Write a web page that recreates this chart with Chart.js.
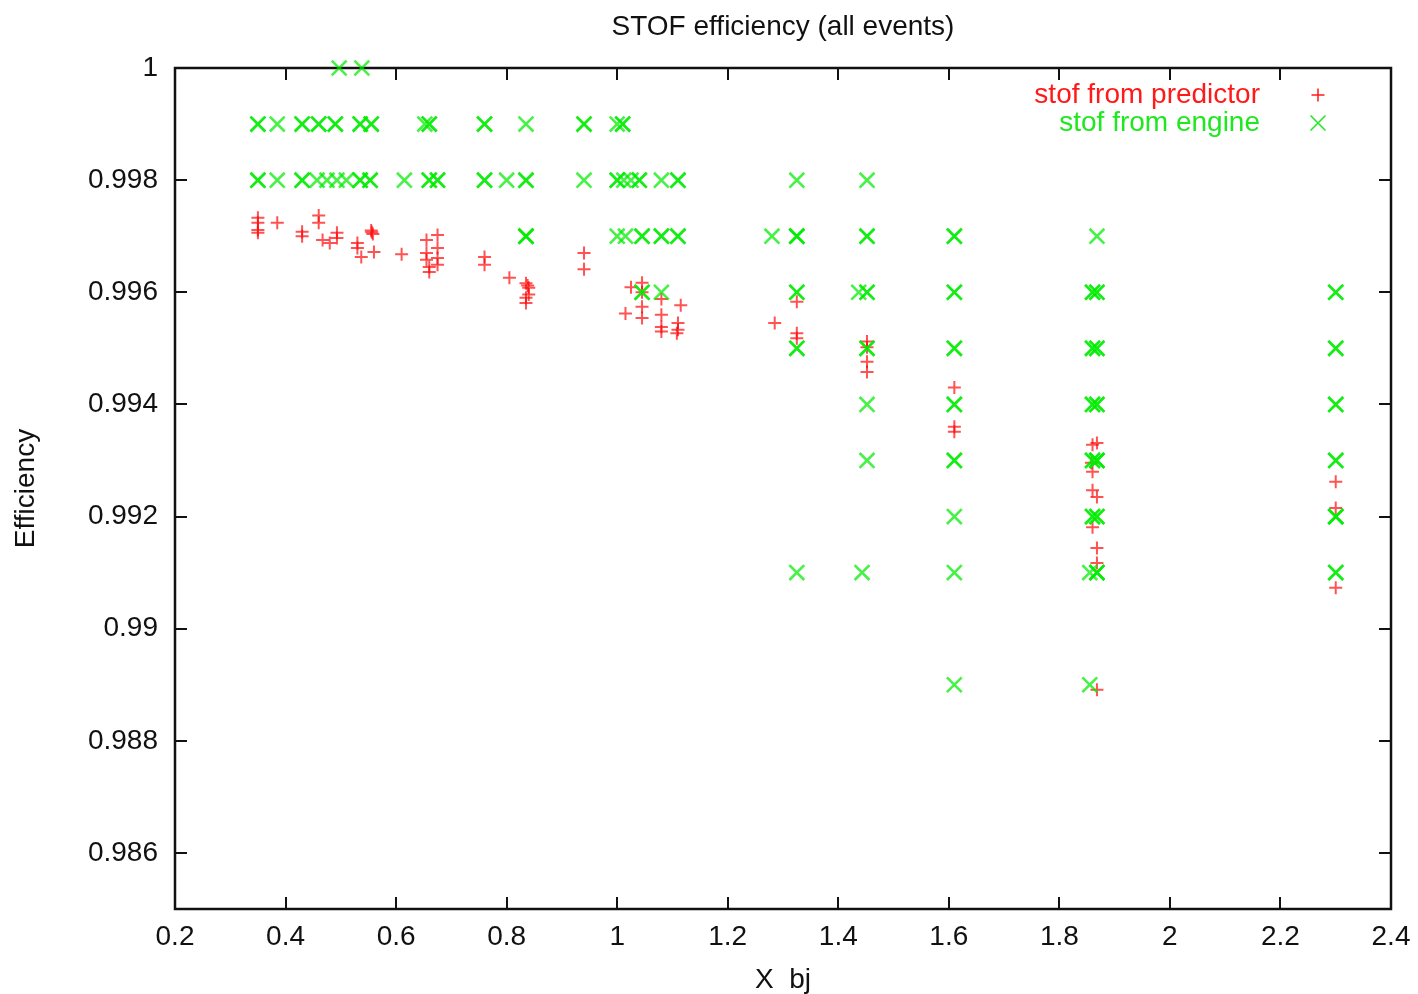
<!DOCTYPE html>
<html>
<head>
<meta charset="utf-8">
<title>STOF efficiency</title>
<script src="https://cdn.jsdelivr.net/npm/chart.js@4/dist/chart.umd.min.js"></script>
<style>
  html, body { margin: 0; padding: 0; background: #fff; }
  #wrap { width: 1418px; height: 994px; }
</style>
</head>
<body>
<div id="wrap"><canvas id="c" width="1418" height="994"></canvas></div>
<script>
// Axis ticks
const xTicks = [0.2, 0.4, 0.6, 0.8, 1.0, 1.2, 1.4, 1.6, 1.8, 2.0, 2.2, 2.4];
const yTicks = [0.986, 0.988, 0.990, 0.992, 0.994, 0.996, 0.998, 1.000];

// Efficiency from the predictor, one entry per run (x = X_bj)
const predictorX = [
  0.35, 0.35, 0.35, 0.35,
  0.385,
  0.43, 0.43,
  0.46, 0.46,
  0.467, 0.48,
  0.493, 0.493,
  0.53, 0.53, 0.537,
  0.555, 0.556, 0.558,
  0.56,
  0.61,
  0.655, 0.655, 0.655, 0.66, 0.66,
  0.675, 0.675, 0.675, 0.675,
  0.76, 0.76,
  0.805,
  0.835, 0.838, 0.84, 0.84, 0.835, 0.835,
  0.94, 0.94,
  1.015, 1.025, 1.045, 1.045, 1.045, 1.045,
  1.08, 1.08, 1.08, 1.08,
  1.115, 1.11, 1.11, 1.108,
  1.285,
  1.325, 1.325, 1.325,
  1.452, 1.452, 1.452, 1.452,
  1.61, 1.61, 1.61,
  1.86, 1.868, 1.858, 1.86, 1.86, 1.868, 1.86, 1.868, 1.868, 1.868,
  2.30, 2.30, 2.30
];
const predictorY = [
  0.99733, 0.99724, 0.99711, 0.99706,
  0.99724,
  0.99708, 0.99700,
  0.99737, 0.99724,
  0.99693, 0.99688,
  0.99706, 0.99697,
  0.99688, 0.99679, 0.99663,
  0.99710, 0.99707, 0.99704,
  0.99672,
  0.99668,
  0.99693, 0.99670, 0.99658, 0.99645, 0.99636,
  0.99702, 0.99679, 0.99661, 0.99649,
  0.99663, 0.99649,
  0.99626,
  0.99616, 0.99612, 0.99608, 0.99596, 0.99590, 0.99581,
  0.99670, 0.99641,
  0.99562, 0.99609, 0.99617, 0.99600, 0.99574, 0.99554,
  0.99588, 0.99560, 0.99538, 0.99530,
  0.99577, 0.99545, 0.99533, 0.99527,
  0.99545,
  0.99583, 0.99527, 0.99518,
  0.99512, 0.99502, 0.99476, 0.99458,
  0.99430, 0.99360, 0.99351,
  0.99328, 0.99331, 0.99296, 0.99280, 0.99247, 0.99235, 0.99181, 0.99144, 0.99117, 0.98891,
  0.99262, 0.99215, 0.99073
];

// Efficiency from the engine, quantised to 0.001 (repeated runs overlap)
const engineX = [
  0.497, 0.538,
  0.35, 0.35, 0.385, 0.43, 0.43, 0.46, 0.46, 0.49, 0.49, 0.535, 0.535, 0.555, 0.555,
  0.652, 0.66, 0.66, 0.76, 0.76, 0.835, 0.94, 0.94, 1.0, 1.01, 1.01,
  0.35, 0.35, 0.385, 0.43, 0.43, 0.457, 0.475, 0.493, 0.51, 0.535, 0.535, 0.553, 0.553,
  0.615, 0.66, 0.66, 0.675, 0.675, 0.76, 0.76, 0.80, 0.835, 0.835, 0.94,
  1.0, 1.0, 1.012, 1.025, 1.04, 1.04, 1.08, 1.11, 1.11, 1.325, 1.452,
  0.835, 0.835, 0.835, 1.0, 1.015, 1.045, 1.045, 1.08, 1.08, 1.11, 1.11, 1.28,
  1.325, 1.325, 1.325, 1.452, 1.452, 1.61, 1.61, 1.868,
  1.045, 1.045, 1.08, 1.325, 1.325, 1.437, 1.452, 1.452, 1.61, 1.61, 1.86, 1.86, 1.868, 1.868, 2.30, 2.30,
  1.325, 1.325, 1.452, 1.452, 1.61, 1.61, 1.86, 1.86, 1.868, 1.868, 2.30, 2.30,
  1.452, 1.61, 1.61, 1.86, 1.86, 1.868, 1.868, 2.30, 2.30,
  1.452, 1.61, 1.61, 1.86, 1.86, 1.868, 1.868, 1.868, 2.30, 2.30,
  1.61, 1.86, 1.86, 1.868, 1.868, 2.30, 2.30, 2.30,
  1.325, 1.443, 1.61, 1.855, 1.868, 1.868, 1.868, 2.30, 2.30,
  1.61, 1.855
];
const engineY = [
  1.000, 1.000,
  0.999, 0.999, 0.999, 0.999, 0.999, 0.999, 0.999, 0.999, 0.999, 0.999, 0.999, 0.999, 0.999,
  0.999, 0.999, 0.999, 0.999, 0.999, 0.999, 0.999, 0.999, 0.999, 0.999, 0.999,
  0.998, 0.998, 0.998, 0.998, 0.998, 0.998, 0.998, 0.998, 0.998, 0.998, 0.998, 0.998, 0.998,
  0.998, 0.998, 0.998, 0.998, 0.998, 0.998, 0.998, 0.998, 0.998, 0.998, 0.998,
  0.998, 0.998, 0.998, 0.998, 0.998, 0.998, 0.998, 0.998, 0.998, 0.998, 0.998,
  0.997, 0.997, 0.997, 0.997, 0.997, 0.997, 0.997, 0.997, 0.997, 0.997, 0.997, 0.997,
  0.997, 0.997, 0.997, 0.997, 0.997, 0.997, 0.997, 0.997,
  0.996, 0.996, 0.996, 0.996, 0.996, 0.996, 0.996, 0.996, 0.996, 0.996, 0.996, 0.996, 0.996, 0.996, 0.996, 0.996,
  0.995, 0.995, 0.995, 0.995, 0.995, 0.995, 0.995, 0.995, 0.995, 0.995, 0.995, 0.995,
  0.994, 0.994, 0.994, 0.994, 0.994, 0.994, 0.994, 0.994, 0.994,
  0.993, 0.993, 0.993, 0.993, 0.993, 0.993, 0.993, 0.993, 0.993, 0.993,
  0.992, 0.992, 0.992, 0.992, 0.992, 0.992, 0.992, 0.992,
  0.991, 0.991, 0.991, 0.991, 0.991, 0.991, 0.991, 0.991, 0.991,
  0.989, 0.989
];

const toPoints = (xs, ys) => xs.map((x, i) => ({ x: x, y: ys[i] }));

const FONT = '"Liberation Sans", Arial, Helvetica, sans-serif';
const INK = '#111';

// Border box with inward tick marks on all four sides
const framePlugin = {
  id: 'frame',
  beforeDatasetsDraw(chart) {
    const { ctx, chartArea: a, scales } = chart;
    const len = 12;
    ctx.save();
    ctx.strokeStyle = INK;
    ctx.lineWidth = 2;
    ctx.beginPath();
    scales.x.ticks.forEach(t => {
      const px = Math.round(scales.x.getPixelForValue(t.value));
      ctx.moveTo(px, a.bottom); ctx.lineTo(px, a.bottom - len);
      ctx.moveTo(px, a.top); ctx.lineTo(px, a.top + len);
    });
    scales.y.ticks.forEach(t => {
      const py = Math.round(scales.y.getPixelForValue(t.value));
      ctx.moveTo(a.left, py); ctx.lineTo(a.left + len, py);
      ctx.moveTo(a.right, py); ctx.lineTo(a.right - len, py);
    });
    ctx.stroke();
    ctx.lineWidth = 2.5;
    ctx.strokeRect(a.left, a.top, a.right - a.left, a.bottom - a.top);
    ctx.restore();
  }
};

// Key in the top-right corner: coloured label, marker to its right
const keyPlugin = {
  id: 'key',
  afterDraw(chart) {
    const { ctx, chartArea: a } = chart;
    const textRight = a.right - 131;
    const markX = a.right - 73;
    let y = a.top + 27;
    ctx.save();
    ctx.font = '28px ' + FONT;
    ctx.textAlign = 'right';
    ctx.textBaseline = 'middle';
    chart.data.datasets.forEach(ds => {
      ctx.fillStyle = ds.keyColor;
      ctx.fillText(ds.label, textRight, y);
      ctx.strokeStyle = ds.keyColor;
      ctx.lineWidth = 1.5;
      ctx.beginPath();
      if (ds.pointStyle === 'cross') {
        ctx.moveTo(markX - 6.5, y); ctx.lineTo(markX + 6.5, y);
        ctx.moveTo(markX, y - 6.5); ctx.lineTo(markX, y + 6.5);
      } else {
        ctx.moveTo(markX - 7.5, y - 7.5); ctx.lineTo(markX + 7.5, y + 7.5);
        ctx.moveTo(markX - 7.5, y + 7.5); ctx.lineTo(markX + 7.5, y - 7.5);
      }
      ctx.stroke();
      y += 28;
    });
    ctx.restore();
  }
};

new Chart(document.getElementById('c'), {
  type: 'scatter',
  data: {
    datasets: [
      {
        label: 'stof from predictor',
        data: toPoints(predictorX, predictorY),
        pointStyle: 'cross',
        pointRadius: 6.5,
        borderColor: 'rgba(255,0,0,0.68)',
        backgroundColor: 'rgba(255,0,0,0.68)',
        pointBorderWidth: 2,
        keyColor: '#ff1a1a',
        order: 1,
        clip: false
      },
      {
        label: 'stof from engine',
        data: toPoints(engineX, engineY),
        pointStyle: 'crossRot',
        pointRadius: 10.5,
        borderColor: 'rgba(0,235,0,0.72)',
        backgroundColor: 'rgba(0,235,0,0.72)',
        pointBorderWidth: 2.6,
        keyColor: '#1ee81e',
        order: 0,
        clip: false
      }
    ]
  },
  options: {
    responsive: false,
    animation: false,
    events: [],
    layout: { padding: { left: 0, right: 27, top: 0, bottom: 0 } },
    plugins: {
      legend: { display: false },
      tooltip: { enabled: false },
      title: {
        display: true,
        text: 'STOF efficiency (all events)',
        fullSize: false,
        color: INK,
        font: { family: FONT, size: 28, weight: 'normal', lineHeight: 1.2 },
        padding: { top: 10, bottom: 24.4 }
      }
    },
    scales: {
      x: {
        type: 'linear',
        min: 0.2,
        max: 2.4,
        afterBuildTicks: s => { s.ticks = xTicks.map(v => ({ value: v })); },
        afterFit: s => { s.height = 85; s.paddingLeft = 0; s.paddingRight = 0; },
        grid: { display: false, drawTicks: false },
        border: { display: false },
        ticks: {
          color: INK,
          padding: 11,
          font: { family: FONT, size: 28 },
          callback: v => String(Math.round(v * 10) / 10)
        },
        title: {
          display: true,
          text: 'X  bj',
          color: INK,
          font: { family: FONT, size: 28, lineHeight: 1 },
          padding: { top: 0, bottom: 0 }
        }
      },
      y: {
        type: 'linear',
        min: 0.985,
        max: 1.0,
        afterBuildTicks: s => { s.ticks = yTicks.map(v => ({ value: v })); },
        afterFit: s => { s.width = 175; s.paddingTop = 0; s.paddingBottom = 0; },
        grid: { display: false, drawTicks: false },
        border: { display: false },
        ticks: {
          color: INK,
          padding: 17,
          font: { family: FONT, size: 28 },
          callback: v => String(Math.round(v * 1000) / 1000)
        },
        title: {
          display: true,
          text: 'Efficiency',
          color: INK,
          font: { family: FONT, size: 28, lineHeight: 1 },
          padding: { top: 12, bottom: 0 }
        }
      }
    }
  },
  plugins: [framePlugin, keyPlugin]
});
</script>
</body>
</html>
